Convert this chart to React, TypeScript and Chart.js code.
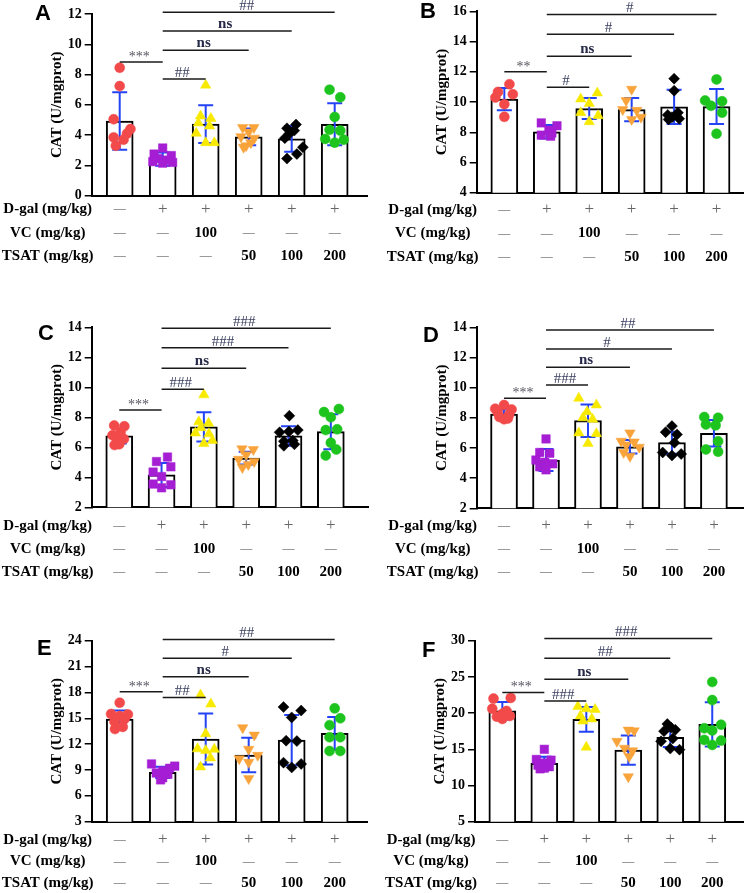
import React, { useEffect, useRef } from 'react';
import { Chart, registerables } from 'chart.js';

Chart.register(...registerables);

const SERIF = "'Liberation Serif', 'Times New Roman', serif";
const SANS = "'Liberation Sans', Arial, sans-serif";

const Y_TITLE = 'CAT (U/mgprot)';
const ROW_LABELS = ['D-gal (mg/kg)', 'VC (mg/kg)', 'TSAT (mg/kg)'];
const ROW_DGAL = ['—', '+', '+', '+', '+', '+'];
const ROW_VC = ['—', '—', '100', '—', '—', '—'];
const ROW_TSAT = ['—', '—', '—', '50', '100', '200'];
const TABLE_ROWS = [ROW_DGAL, ROW_VC, ROW_TSAT];

// ---------- Panel A ----------
const A_MEAN = [4.93, 2.42, 4.73, 3.88, 3.75, 4.72];
const A_SD = [1.9, 0.44, 1.25, 0.55, 0.85, 1.38];
const A_PTS = [
  [8.45, 7.24, 5.05, 4.4, 4.1, 3.85, 3.7, 3.3],
  [3.15, 2.75, 2.65, 2.45, 2.35, 2.25, 2.2, 2.15],
  [7.3, 5.26, 5.1, 4.8, 4.6, 4.12, 3.5, 3.5],
  [4.5, 4.5, 4.2, 3.9, 3.8, 3.5, 3.3, 3.2],
  [4.7, 4.45, 4.3, 4.1, 3.8, 3.2, 2.75, 2.45],
  [7.0, 6.5, 5.2, 4.35, 4.3, 3.75, 3.7, 3.5],
];
const A_JIT = [
  [0, 0, -0.14, 0.25, 0.17, -0.14, 0.09, -0.09],
  [0, -0.2, 0.2, -0.11, 0.1, -0.23, 0.23, 0],
  [0, -0.12, 0.12, -0.17, 0.09, -0.22, 0, 0.2],
  [-0.14, 0.12, 0, -0.18, 0.13, 0.05, -0.06, -0.12],
  [0.1, -0.11, 0.06, -0.05, -0.16, 0.26, 0.12, -0.11],
  [-0.12, 0.13, 0, -0.12, 0.13, -0.22, 0.21, 0],
];
const A_SIG: [number, number, number, string][] = [
  [0, 1, 8.83, '***'], [1, 2, 7.7, '##'], [1, 3, 9.6, 'ns'], [1, 4, 10.88, 'ns'], [1, 5, 12.11, '##'],
];

// ---------- Panel B ----------
const B_MEAN = [10.19, 8.03, 9.57, 9.5, 9.68, 9.7];
const B_SD = [0.74, 0.45, 0.7, 0.77, 1.13, 1.16];
const B_PTS = [
  [11.18, 10.67, 10.52, 10.3, 9.86, 9.02],
  [8.62, 8.43, 8.14, 7.95, 7.81, 7.74],
  [10.6, 10.2, 9.9, 9.3, 9.1, 8.7],
  [10.85, 10.1, 9.5, 9.45, 9.0, 8.85],
  [11.55, 10.75, 9.3, 9.15, 9.0, 8.9, 8.85],
  [11.5, 10.1, 10.05, 9.75, 9.3, 7.9],
];
const B_JIT = [
  [0.12, -0.15, 0.2, -0.21, 0, 0],
  [-0.13, 0.24, 0.05, 0.12, -0.13, 0.09],
  [0.19, -0.2, 0, -0.2, 0.21, 0],
  [0, -0.13, -0.21, 0.12, 0.22, 0],
  [0, 0, 0.09, -0.15, -0.05, 0.12, -0.13],
  [0, -0.27, 0.13, -0.13, 0.13, 0],
];
const B_SIG: [number, number, number, string][] = [
  [0, 1, 12.0, '**'], [1, 2, 10.98, '#'], [1, 3, 13.03, 'ns'], [1, 4, 14.48, '#'], [1, 5, 15.8, '#'],
];

// ---------- Panel C ----------
const C_MEAN = [6.76, 4.16, 7.36, 5.28, 6.76, 7.04];
const C_SD = [0.5, 0.8, 0.98, 0.42, 0.65, 1.17];
const C_PTS = [
  [7.45, 7.4, 7.0, 6.8, 6.55, 6.4, 6.2, 6.15],
  [5.35, 5.05, 4.7, 4.35, 4.05, 3.55, 3.5, 3.3],
  [9.5, 7.7, 7.6, 7.3, 6.95, 6.9, 6.45, 6.25],
  [5.9, 5.85, 5.5, 5.2, 5.05, 4.85, 4.65],
  [8.1, 7.15, 7.05, 7.0, 6.45, 6.4, 6.2, 6.1],
  [8.55, 8.35, 8.0, 7.2, 7.15, 6.3, 5.85, 5.45],
];
const C_JIT = [
  [-0.12, 0.12, 0.03, -0.16, 0.11, -0.05, 0, -0.11],
  [0.14, -0.12, 0.22, -0.2, 0, -0.2, 0.22, 0],
  [0, -0.12, 0.11, -0.07, -0.2, 0.12, 0.2, 0],
  [-0.1, 0.17, 0, -0.18, 0.19, 0.05, -0.09],
  [0.02, 0.22, 0.01, -0.21, 0.1, -0.11, 0.14, -0.11],
  [0.19, -0.16, 0, 0.15, -0.12, 0, 0.13, -0.12],
];
const C_SIG: [number, number, number, string][] = [
  [0, 1, 8.49, '***'], [1, 2, 9.87, '###'], [1, 3, 11.27, 'ns'], [1, 4, 12.64, '###'], [1, 5, 13.93, '###'],
];

// ---------- Panel D ----------
const D_MEAN = [8.25, 5.2, 7.81, 6.08, 6.35, 6.97];
const D_SD = [0.3, 0.73, 1.08, 0.45, 0.73, 0.88];
const D_PTS = [
  [8.85, 8.6, 8.55, 8.35, 8.2, 8.05, 7.95, 7.9],
  [6.6, 5.7, 5.65, 5.2, 5.05, 4.95, 4.75, 4.55],
  [9.3, 8.85, 8.4, 8.0, 7.9, 7.0, 6.95, 6.3],
  [7.0, 6.45, 6.4, 6.2, 6.05, 5.7, 5.45],
  [7.45, 7.05, 6.9, 6.35, 5.7, 5.6, 5.5],
  [8.05, 8.0, 7.55, 7.5, 6.45, 5.9, 5.75],
];
const D_JIT = [
  [0, -0.21, 0.18, -0.15, 0.12, -0.11, 0.09, 0],
  [0, -0.15, 0.09, -0.24, -0.03, 0.16, -0.15, 0],
  [-0.22, 0.2, -0.02, -0.12, 0.11, -0.22, 0.2, 0],
  [0, -0.21, 0.1, -0.09, 0.22, -0.15, 0],
  [0, -0.15, 0.12, 0.06, -0.22, 0.22, 0],
  [-0.23, 0.1, -0.19, 0.04, 0.1, -0.19, 0.1],
];
const D_SIG: [number, number, number, string][] = [
  [0, 1, 9.29, '***'], [1, 2, 10.18, '###'], [1, 3, 11.35, 'ns'], [1, 4, 12.56, '#'], [1, 5, 13.82, '##'],
];

// ---------- Panel E ----------
const E_MEAN = [14.91, 8.72, 12.59, 10.73, 12.47, 13.25];
const E_SD = [1.0, 0.65, 2.95, 2.0, 2.92, 1.9];
const E_PTS = [
  [16.8, 15.5, 15.45, 15.25, 14.9, 14.6, 14.0, 13.75],
  [9.7, 9.45, 9.2, 8.9, 8.65, 8.5, 8.1, 7.85],
  [17.7, 16.65, 13.2, 11.45, 11.4, 11.25, 10.4, 9.35],
  [13.9, 13.05, 11.4, 10.7, 10.3, 9.9, 8.0],
  [16.3, 15.9, 15.1, 12.4, 12.35, 9.85, 9.7, 9.3],
  [16.15, 15.0, 14.2, 12.8, 12.8, 11.2, 11.2],
];
const E_JIT = [
  [0, -0.2, 0.19, 0, 0.11, -0.12, 0.07, -0.11],
  [-0.26, 0.28, 0.16, 0, -0.15, 0.12, 0, -0.05],
  [-0.12, 0.12, 0, -0.19, 0.2, 0, 0.11, -0.12],
  [-0.14, 0.13, 0, 0.21, -0.22, 0, 0],
  [-0.19, 0.22, 0, -0.13, 0.12, -0.19, 0.22, 0],
  [0, 0.13, -0.12, -0.12, 0.13, -0.12, 0.13],
];
const E_SIG: [number, number, number, string][] = [
  [0, 1, 18.08, '***'], [1, 2, 17.42, '##'], [1, 3, 19.82, 'ns'], [1, 4, 21.95, '#'], [1, 5, 24.15, '##'],
];

// ---------- Panel F ----------
const F_MEAN = [20.33, 13.06, 19.13, 14.9, 16.65, 18.44];
const F_SD = [1.22, 0.92, 1.72, 2.02, 1.34, 3.05];
const F_PTS = [
  [22.1, 22.0, 20.6, 20.3, 19.9, 19.6, 19.5, 19.2],
  [15.0, 13.6, 13.5, 13.1, 12.8, 12.6, 12.4, 12.3],
  [20.9, 20.6, 20.5, 19.6, 19.2, 18.9, 15.3],
  [17.65, 17.55, 16.1, 15.15, 14.8, 14.0, 11.2],
  [18.5, 18.0, 17.7, 17.5, 16.5, 16.1, 15.1, 14.95],
  [24.3, 21.8, 18.4, 17.9, 17.6, 16.3, 16.2, 15.6],
];
const F_JIT = [
  [0.2, -0.21, -0.24, 0.1, 0, 0.18, -0.13, 0],
  [0, -0.19, 0.16, -0.03, -0.15, 0.12, 0, -0.1],
  [-0.2, 0, 0.21, -0.14, 0.13, -0.08, 0],
  [0, 0.14, -0.27, -0.09, 0.1, 0.02, 0],
  [-0.07, 0.02, 0.12, -0.15, 0.06, -0.22, 0, 0.22],
  [0, 0, 0.21, -0.19, 0, -0.19, 0.21, 0],
];
const F_SIG: [number, number, number, string][] = [
  [0, 1, 22.86, '***'], [1, 2, 21.67, '###'], [1, 3, 24.66, 'ns'], [1, 4, 27.56, '##'], [1, 5, 30.32, '###'],
];

// ---------- styles ----------
const GROUP_COLORS = ['#f24a4a', '#a51ed4', '#f7ea00', '#f9a33b', '#000000', '#1ec41e'];
const GROUP_SHAPES = ['circle', 'rect', 'triangle', 'triangle', 'rectRot', 'circle'];
const GROUP_ROT = [0, 0, 0, 180, 0, 0];
const GROUP_RADIUS = [5, 6, 6, 6, 5.5, 5];
const ERR_COLOR = '#2343f5';

const PANELS: any[] = [
  { letter: 'A', yMin: 0, yMax: 12, yStep: 2, mean: A_MEAN, sd: A_SD, pts: A_PTS, jit: A_JIT, sig: A_SIG,
    L: { left: 0, top: 0, w: 375, h: 313, axisX: 91.7, plotRight: 367, plotTop: 14, plotBottom: 195.7, rowOff: 13.5, rowGap: 23.5, letterX: 35, letterY: 20 } },
  { letter: 'B', yMin: 4, yMax: 16, yStep: 2, mean: B_MEAN, sd: B_SD, pts: B_PTS, jit: B_JIT, sig: B_SIG,
    L: { left: 375, top: 0, w: 375, h: 313, axisX: 101.7, plotRight: 372, plotTop: 11, plotBottom: 192.7, rowOff: 17.3, rowGap: 23.5, letterX: 45, letterY: 18 } },
  { letter: 'C', yMin: 2, yMax: 14, yStep: 2, mean: C_MEAN, sd: C_SD, pts: C_PTS, jit: C_JIT, sig: C_SIG,
    L: { left: 0, top: 313, w: 375, h: 313, axisX: 91.7, plotRight: 373, plotTop: 14.3, plotBottom: 194.3, rowOff: 18.4, rowGap: 23, letterX: 38, letterY: 27 } },
  { letter: 'D', yMin: 2, yMax: 14, yStep: 2, mean: D_MEAN, sd: D_SD, pts: D_PTS, jit: D_JIT, sig: D_SIG,
    L: { left: 375, top: 313, w: 375, h: 313, axisX: 101.7, plotRight: 375, plotTop: 14.3, plotBottom: 195.3, rowOff: 17.7, rowGap: 23, letterX: 48, letterY: 29 } },
  { letter: 'E', yMin: 3, yMax: 24, yStep: 3, mean: E_MEAN, sd: E_SD, pts: E_PTS, jit: E_JIT, sig: E_SIG,
    L: { left: 0, top: 626, w: 375, h: 267, axisX: 91.7, plotRight: 367, plotTop: 14.7, plotBottom: 195.7, rowOff: 18.3, rowGap: 21.5, letterX: 37, letterY: 29 } },
  { letter: 'F', yMin: 5, yMax: 30, yStep: 5, mean: F_MEAN, sd: F_SD, pts: F_PTS, jit: F_JIT, sig: F_SIG,
    L: { left: 375, top: 626, w: 375, h: 267, axisX: 100, plotRight: 375, plotTop: 14.7, plotBottom: 195.7, rowOff: 18.3, rowGap: 21.5, letterX: 47, letterY: 31 } },
];

function PanelChart({ p }: { p: any }) {
  const ref = useRef<HTMLCanvasElement>(null);
  const L = p.L;
  useEffect(() => {
    const AXIS_W = 47.5;
    const pitch = 43;
    const xMin = -28 / pitch;
    const xMax = xMin + (L.plotRight - L.axisX) / pitch;

    const datasets: any[] = [
      {
        type: 'bar',
        data: p.mean.map((m: number, i: number) => ({ x: i, y: m })),
        backgroundColor: '#ffffff',
        borderColor: '#000000',
        borderWidth: 2,
        barThickness: 27,
        order: 1,
      },
    ];
    p.pts.forEach((g: number[], i: number) => {
      datasets.push({
        type: 'scatter',
        data: g.map((v, k) => ({ x: i + p.jit[i][k], y: v })),
        pointStyle: GROUP_SHAPES[i],
        pointRotation: GROUP_ROT[i],
        pointRadius: GROUP_RADIUS[i],
        pointBackgroundColor: GROUP_COLORS[i],
        pointBorderColor: GROUP_COLORS[i],
        pointBorderWidth: 0.5,
        order: 0,
        clip: false,
      });
    });

    const plugin = {
      id: 'extras',
      afterDatasetDraw(chart: any, args: any) {
        if (args.index !== 0) return;
        const { ctx } = chart;
        const x = chart.scales.x;
        const y = chart.scales.y;
        ctx.save();
        ctx.strokeStyle = ERR_COLOR;
        ctx.lineWidth = 2;
        p.mean.forEach((m: number, i: number) => {
          const cx = x.getPixelForValue(i);
          const t = y.getPixelForValue(m + p.sd[i]);
          const b = y.getPixelForValue(Math.max(m - p.sd[i], p.yMin));
          ctx.beginPath();
          ctx.moveTo(cx, t); ctx.lineTo(cx, b);
          ctx.moveTo(cx - 7.5, t); ctx.lineTo(cx + 7.5, t);
          ctx.moveTo(cx - 7.5, b); ctx.lineTo(cx + 7.5, b);
          ctx.stroke();
        });
        ctx.restore();
      },
      afterDraw(chart: any) {
        const { ctx, chartArea } = chart;
        const x = chart.scales.x;
        const y = chart.scales.y;
        ctx.save();
        // significance brackets
        p.sig.forEach(([a, b, v, label]: [number, number, number, string]) => {
          const x1 = x.getPixelForValue(a);
          const x2 = x.getPixelForValue(b);
          const yy = y.getPixelForValue(v);
          ctx.strokeStyle = '#1a1a1a';
          ctx.lineWidth = 1.5;
          ctx.beginPath();
          ctx.moveTo(x1, yy); ctx.lineTo(x2, yy);
          ctx.stroke();
          const isNs = label === 'ns';
          const isStar = label.charAt(0) === '*';
          ctx.font = isNs ? `bold 15px ${SERIF}` : isStar ? `14px ${SERIF}` : `15px ${SERIF}`;
          ctx.fillStyle = isNs ? '#262a48' : isStar ? '#555560' : '#3b4060';
          ctx.textAlign = 'center';
          ctx.textBaseline = 'alphabetic';
          ctx.fillText(label, (x1 + x2) / 2 - 2, yy - (isStar ? 1 : isNs ? 3 : 2));
        });
        // table under the axis
        const rowsY = [0, 1, 2].map((k) => chartArea.bottom + L.rowOff + k * L.rowGap);
        ctx.textBaseline = 'middle';
        ctx.textAlign = 'center';
        ROW_LABELS.forEach((lab, k) => {
          ctx.font = `bold 15px ${SERIF}`;
          ctx.fillStyle = '#000';
          ctx.fillText(lab, L.axisX - 44, rowsY[k]);
        });
        TABLE_ROWS.forEach((row, k) => {
          row.forEach((cell, i) => {
            const cx = x.getPixelForValue(i);
            if (cell === '—') { ctx.font = `12px ${SERIF}`; ctx.fillStyle = '#666'; }
            else if (cell === '+') { ctx.font = `17px ${SERIF}`; ctx.fillStyle = '#666'; }
            else { ctx.font = `bold 15px ${SERIF}`; ctx.fillStyle = '#000'; }
            ctx.fillText(cell, cx, rowsY[k]);
          });
        });
        // panel letter
        ctx.font = `bold 22px ${SANS}`;
        ctx.fillStyle = '#000';
        ctx.textAlign = 'left';
        ctx.textBaseline = 'alphabetic';
        ctx.fillText(p.letter, L.letterX, L.letterY);
        ctx.restore();
      },
    };

    const chart = new Chart(ref.current as HTMLCanvasElement, {
      type: 'bar',
      data: { datasets },
      options: {
        responsive: false,
        animation: false,
        devicePixelRatio: 1,
        events: [],
        layout: {
          padding: {
            left: L.axisX - AXIS_W,
            right: L.w - L.plotRight,
            top: L.plotTop,
            bottom: L.h - L.plotBottom,
          },
        },
        plugins: { legend: { display: false }, tooltip: { enabled: false } },
        scales: {
          x: {
            type: 'linear',
            min: xMin,
            max: xMax,
            offset: false,
            ticks: { display: false },
            grid: { display: false, drawTicks: false },
            border: { display: true, color: '#000', width: 2 },
            afterFit: (s: any) => { s.height = 0; },
          },
          y: {
            type: 'linear',
            min: p.yMin,
            max: p.yMax,
            beginAtZero: false,
            ticks: {
              stepSize: p.yStep,
              color: '#000',
              padding: 3,
              font: { family: SERIF, size: 14, weight: 'bold' },
            },
            grid: { display: true, drawOnChartArea: false, drawTicks: true, tickLength: 7, color: '#000', lineWidth: 1.5 },
            border: { display: true, color: '#000', width: 2 },
            title: {
              display: true,
              text: Y_TITLE,
              color: '#000',
              padding: { top: 4, bottom: 4 },
              font: { family: SERIF, size: 15, weight: 'bold' },
            },
            afterFit: (s: any) => { s.width = AXIS_W; },
          },
        },
      } as any,
      plugins: [plugin],
    });
    return () => chart.destroy();
  }, []);
  return (
    <canvas
      ref={ref}
      width={L.w}
      height={L.h}
      style={{ position: 'absolute', left: L.left, top: L.top, width: L.w, height: L.h }}
    />
  );
}

export default function App() {
  return (
    <div style={{ position: 'absolute', left: 0, top: 0, width: 750, height: 893, overflow: 'hidden', background: '#fff' }}>
      {PANELS.map((p) => (
        <PanelChart key={p.letter} p={p} />
      ))}
    </div>
  );
}
